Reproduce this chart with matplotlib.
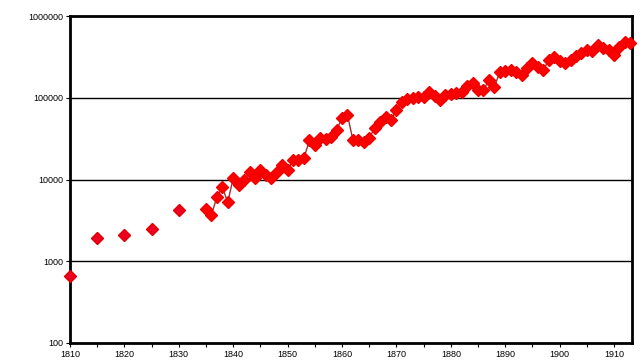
import numpy as np
import matplotlib
matplotlib.use('Agg')
import matplotlib.pyplot as plt
import matplotlib.ticker as ticker

# early sparse observations (every 5 years)
years_early = [1810, 1815, 1820, 1825, 1830]
vals_early = [660, 1900, 2100, 2450, 4250]

# annual series 1835-1913
years_annual = list(range(1835, 1914))
vals_annual = [
    4300, 3700, 6100, 8000, 5300,                 # 1835-1839
    10400, 8600, 9800, 12300, 10400,              # 1840-1844
    13000, 11500, 10500, 12300, 15000,            # 1845-1849
    13000, 17300, 17500, 18300, 30000,            # 1850-1854
    26400, 32000, 31000, 33000, 40300,            # 1855-1859
    56500, 61400, 30400, 30400, 29000,            # 1860-1864
    32100, 42600, 50400, 58100, 53300,            # 1865-1869
    70800, 88600, 96400, 99000, 101000,           # 1870-1874
    102000, 117000, 105000, 94000, 108000,        # 1875-1879
    110000, 114000, 117000, 140000, 151000,       # 1880-1884
    126000, 124000, 165000, 135000, 207000,       # 1885-1889
    210000, 218000, 205000, 190000, 230000,       # 1890-1894
    266000, 240000, 218000, 290000, 315000,       # 1895-1899
    280000, 266000, 289000, 320000, 352000,       # 1900-1904
    383000, 370000, 442000, 410000, 383000,       # 1905-1909
    333000, 418000, 481000, 467000,               # 1910-1913
]

ytick_vals = [100, 1000, 10000, 100000, 1000000]
xtick_major = list(range(1810, 1911, 10))

plt.rcParams['font.family'] = ['Liberation Sans', 'DejaVu Sans']

fig = plt.figure(figsize=(6.44, 3.63), dpi=100)
ax = fig.add_axes([70/644, 20/363, 562/644, 327/363])

ax.set_yscale('log')
ax.set_ylim(100, 1000000)
ax.set_xlim(1810, 1913.3)

for v in ytick_vals[1:-1]:
    ax.axhline(v, color='black', lw=1.0, zorder=1)

ax.plot(years_early, vals_early, linestyle='none', marker='D', markersize=6.5,
        color='#ee0022', markeredgecolor='#dd0000', zorder=3, clip_on=False)
ax.plot(years_annual, vals_annual, linestyle='-', lw=1.0, color='#993333',
        marker='D', markersize=6.5, markerfacecolor='#ff0000',
        markeredgecolor='#ee0000', zorder=3, clip_on=False)

ax.set_yticks(ytick_vals)
ax.yaxis.set_major_formatter(ticker.FuncFormatter(lambda v, p: '%d' % v))
ax.yaxis.set_minor_locator(ticker.NullLocator())
ax.set_xticks(xtick_major)
ax.set_xticks(list(range(1815, 1914, 10)), minor=True)
ax.tick_params(axis='both', which='both', labelsize=6.5, length=3, width=0.8,
               direction='out', pad=2)

for s in ax.spines.values():
    s.set_linewidth(2)
    s.set_color('black')

fig.savefig('out.png', dpi=100)
